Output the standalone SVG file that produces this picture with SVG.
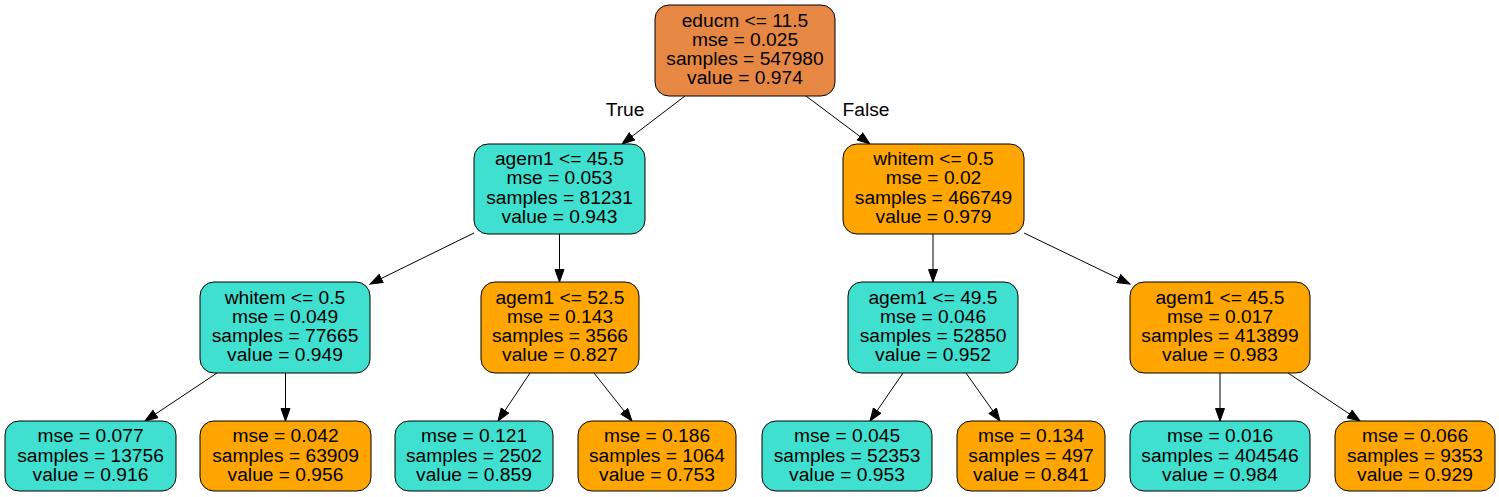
<svg xmlns="http://www.w3.org/2000/svg" width="1499" height="497" viewBox="0 0 1499 497">
<style>
text{font-family:"Liberation Sans",Arial,sans-serif;font-size:19.2px;fill:#000;text-anchor:middle}
.n{stroke:#000;stroke-width:1}
.root{fill:#e68843}
.t{fill:#40e0d0}
.o{fill:#ffa500}
.e{stroke:#000;stroke-width:1;fill:none;marker-end:url(#ah)}
</style>
<defs>
<marker id="ah" markerUnits="userSpaceOnUse" markerWidth="14" markerHeight="11" refX="13" refY="5" orient="auto">
<path d="M0.5,0.5 L13,5 L0.5,9.5 z" fill="#000" stroke="#000" stroke-width="1"/>
</marker>
</defs>
<rect width="1499" height="497" fill="#fff"/>
<g id="edges">
<line class="e" x1="685" y1="96" x2="622" y2="144"/>
<line class="e" x1="806" y1="96" x2="870" y2="144"/>
<text x="625" y="116">True</text>
<text x="866" y="116">False</text>
<line class="e" x1="474" y1="233" x2="370" y2="284"/>
<line class="e" x1="559.5" y1="234" x2="559.5" y2="282"/>
<line class="e" x1="933" y1="234" x2="933" y2="282"/>
<line class="e" x1="1024" y1="233" x2="1130" y2="284"/>
<line class="e" x1="217" y1="373" x2="145" y2="421"/>
<line class="e" x1="285.5" y1="373" x2="285.5" y2="421"/>
<line class="e" x1="530" y1="373" x2="498" y2="421"/>
<line class="e" x1="594" y1="373" x2="632" y2="421"/>
<line class="e" x1="903" y1="373" x2="870" y2="421"/>
<line class="e" x1="966" y1="373" x2="1000" y2="421"/>
<line class="e" x1="1220" y1="373" x2="1220" y2="421"/>
<line class="e" x1="1288" y1="373" x2="1360" y2="421"/>
</g>
<g id="root">
<rect class="n root" x="655" y="5" width="180" height="91" rx="14"/>
<text x="745" y="26.5">educm &lt;= 11.5</text>
<text x="745" y="45.8">mse = 0.025</text>
<text x="745" y="65.1">samples = 547980</text>
<text x="745" y="84.4">value = 0.974</text>
</g>
<g id="n1">
<rect class="n t" x="474" y="144" width="171" height="90" rx="14"/>
<text x="559.5" y="165">agem1 &lt;= 45.5</text>
<text x="559.5" y="184.3">mse = 0.053</text>
<text x="559.5" y="203.6">samples = 81231</text>
<text x="559.5" y="222.9">value = 0.943</text>
</g>
<g id="n2">
<rect class="n o" x="843" y="144" width="181" height="90" rx="14"/>
<text x="933.5" y="165">whitem &lt;= 0.5</text>
<text x="933.5" y="184.3">mse = 0.02</text>
<text x="933.5" y="203.6">samples = 466749</text>
<text x="933.5" y="222.9">value = 0.979</text>
</g>
<g id="n3">
<rect class="n t" x="200" y="282" width="170" height="91" rx="14"/>
<text x="285" y="303.5">whitem &lt;= 0.5</text>
<text x="285" y="322.8">mse = 0.049</text>
<text x="285" y="342.1">samples = 77665</text>
<text x="285" y="361.4">value = 0.949</text>
</g>
<g id="n4">
<rect class="n o" x="481" y="282" width="158" height="91" rx="14"/>
<text x="560" y="303.5">agem1 &lt;= 52.5</text>
<text x="560" y="322.8">mse = 0.143</text>
<text x="560" y="342.1">samples = 3566</text>
<text x="560" y="361.4">value = 0.827</text>
</g>
<g id="n5">
<rect class="n t" x="848" y="282" width="170" height="91" rx="14"/>
<text x="933" y="303.5">agem1 &lt;= 49.5</text>
<text x="933" y="322.8">mse = 0.046</text>
<text x="933" y="342.1">samples = 52850</text>
<text x="933" y="361.4">value = 0.952</text>
</g>
<g id="n6">
<rect class="n o" x="1130" y="282" width="180" height="91" rx="14"/>
<text x="1220" y="303.5">agem1 &lt;= 45.5</text>
<text x="1220" y="322.8">mse = 0.017</text>
<text x="1220" y="342.1">samples = 413899</text>
<text x="1220" y="361.4">value = 0.983</text>
</g>
<g id="l1">
<rect class="n t" x="5" y="421" width="171" height="70" rx="14"/>
<text x="90.5" y="442.3">mse = 0.077</text>
<text x="90.5" y="461.6">samples = 13756</text>
<text x="90.5" y="480.9">value = 0.916</text>
</g>
<g id="l2">
<rect class="n o" x="200" y="421" width="171" height="70" rx="14"/>
<text x="285.5" y="442.3">mse = 0.042</text>
<text x="285.5" y="461.6">samples = 63909</text>
<text x="285.5" y="480.9">value = 0.956</text>
</g>
<g id="l3">
<rect class="n t" x="395" y="421" width="158" height="70" rx="14"/>
<text x="474" y="442.3">mse = 0.121</text>
<text x="474" y="461.6">samples = 2502</text>
<text x="474" y="480.9">value = 0.859</text>
</g>
<g id="l4">
<rect class="n o" x="578" y="421" width="158" height="70" rx="14"/>
<text x="657" y="442.3">mse = 0.186</text>
<text x="657" y="461.6">samples = 1064</text>
<text x="657" y="480.9">value = 0.753</text>
</g>
<g id="l5">
<rect class="n t" x="762" y="421" width="170" height="70" rx="14"/>
<text x="847" y="442.3">mse = 0.045</text>
<text x="847" y="461.6">samples = 52353</text>
<text x="847" y="480.9">value = 0.953</text>
</g>
<g id="l6">
<rect class="n o" x="957" y="421" width="148" height="70" rx="14"/>
<text x="1031" y="442.3">mse = 0.134</text>
<text x="1031" y="461.6">samples = 497</text>
<text x="1031" y="480.9">value = 0.841</text>
</g>
<g id="l7">
<rect class="n t" x="1130" y="421" width="180" height="70" rx="14"/>
<text x="1220" y="442.3">mse = 0.016</text>
<text x="1220" y="461.6">samples = 404546</text>
<text x="1220" y="480.9">value = 0.984</text>
</g>
<g id="l8">
<rect class="n o" x="1335" y="421" width="160" height="70" rx="14"/>
<text x="1415" y="442.3">mse = 0.066</text>
<text x="1415" y="461.6">samples = 9353</text>
<text x="1415" y="480.9">value = 0.929</text>
</g>
</svg>
